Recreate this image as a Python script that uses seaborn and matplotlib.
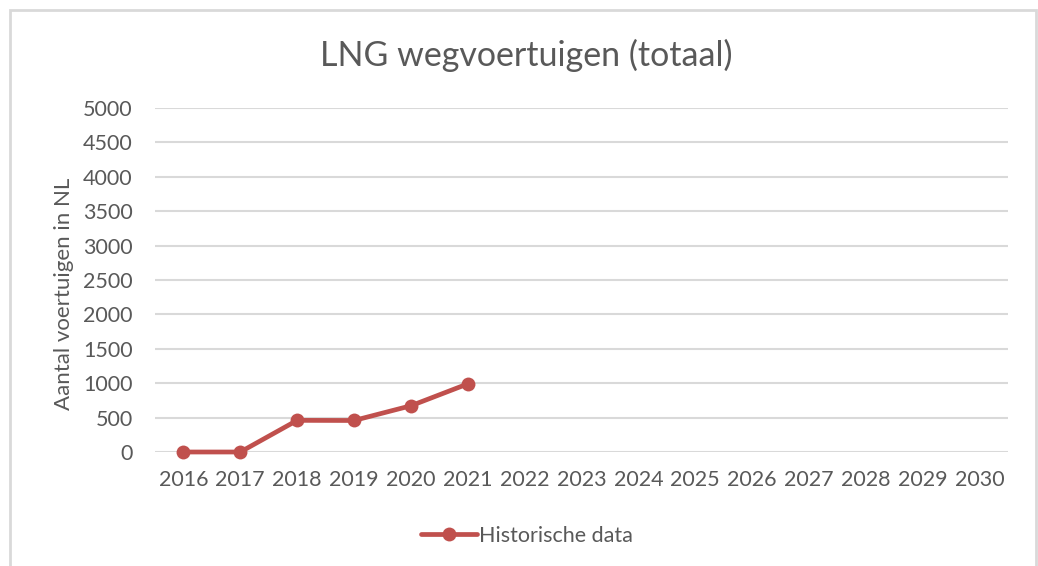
import matplotlib
matplotlib.use("Agg")
import matplotlib.pyplot as plt
from matplotlib.patches import Rectangle
import seaborn as sns
import pandas as pd

# Data
years = list(range(2016, 2031))
hist_years = [2016, 2017, 2018, 2019, 2020, 2021]
hist_values = [0, 0, 460, 458, 672, 990]
y_ticks = [0, 500, 1000, 1500, 2000, 2500, 3000, 3500, 4000, 4500, 5000]

df = pd.DataFrame({'Jaar': hist_years, 'Aantal': hist_values})

sns.set_theme(style='white')
plt.rcParams['font.family'] = ['Lato', 'DejaVu Sans']
text_color = '#595959'
red = '#c0504d'

fig = plt.figure(figsize=(10.38, 5.66), dpi=100)
ax = fig.add_axes([155 / 1038, 1 - 452 / 566, (1008 - 155) / 1038, (452 - 108) / 566])

for t in y_ticks:
    ax.axhline(t, color='#d9d9d9', lw=1.5, zorder=0)

sns.lineplot(data=df, x='Jaar', y='Aantal', ax=ax, color=red, lw=3.4,
             marker='o', markersize=10, markeredgewidth=0, label='Historische data',
             clip_on=False, zorder=3)

ax.set_xlim(years[0] - 0.5, years[-1] + 0.5)
ax.set_ylim(0, 5000)
ax.set_xticks(years)
ax.set_xticklabels([str(y) for y in years])
ax.set_yticks(y_ticks)
ax.tick_params(axis='both', length=0, labelsize=15.5, labelcolor=text_color)
ax.tick_params(axis='x', pad=13)
ax.tick_params(axis='y', pad=16)
for s in ax.spines.values():
    s.set_visible(False)
ax.set_xlabel('')
ax.set_ylabel('Aantal voertuigen in NL', fontsize=16, color=text_color)
ax.yaxis.set_label_coords(-81 / 853, 0.46)

fig.text(526 / 1038, 1 - 55 / 566, 'LNG wegvoertuigen (totaal)', ha='center', va='center',
         fontsize=24.5, color=text_color)

leg = ax.legend(loc='center', bbox_to_anchor=(527 / 1038, 1 - 536 / 566),
                bbox_transform=fig.transFigure, frameon=False, fontsize=15.5,
                handlelength=2.6, handletextpad=0.1)
for txt in leg.get_texts():
    txt.set_color(text_color)

# chart border
fig.patches.append(Rectangle((10 / 1038, -0.05), (1036 - 10) / 1038, 1.05 - 10 / 566,
                             transform=fig.transFigure, fill=False,
                             edgecolor='#d9d9d9', lw=2))

fig.savefig('out.png', dpi=100)
